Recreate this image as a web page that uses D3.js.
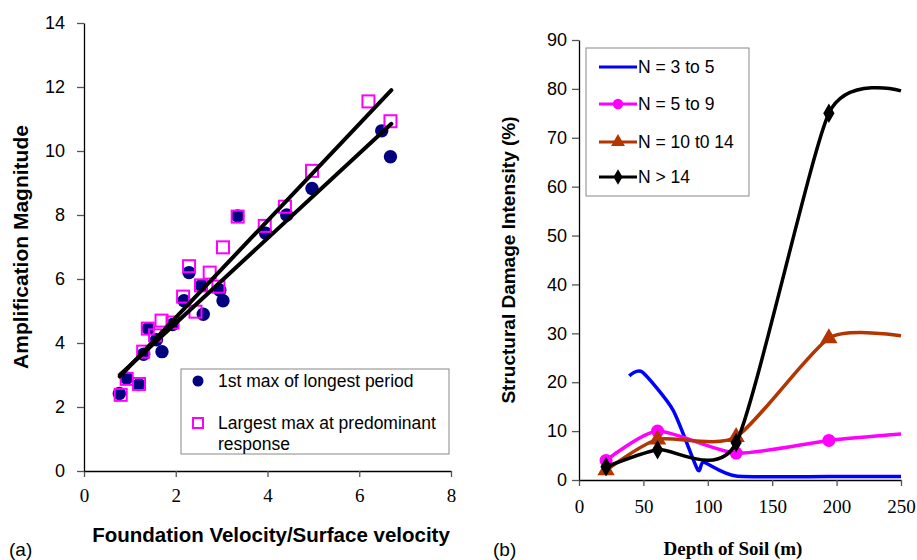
<!DOCTYPE html>
<html>
<head>
<meta charset="utf-8">
<script src="https://cdn.jsdelivr.net/npm/d3@7"></script>
<style>
  body { margin: 0; background: #fff; }
  #container { width: 917px; height: 560px; }
  .sans { font-family: "Liberation Sans", Arial, sans-serif; }
  .serif { font-family: "Liberation Serif", "Times New Roman", serif; }
</style>
</head>
<body>
<div id="container"></div>
<script>
// (a) scatter: 1st max of longest period
const firstMaxX = [0.77, 0.93, 1.2, 1.3, 1.7, 1.4, 1.58, 1.93, 2.18, 2.29, 2.6, 2.56, 2.96, 3.03, 3.35, 3.96, 4.42, 4.97, 6.49, 6.68];
const firstMaxY = [2.42, 2.9, 2.7, 3.65, 3.73, 4.45, 4.1, 4.58, 5.32, 6.2, 4.9, 5.8, 5.65, 5.32, 7.97, 7.43, 8.0, 8.83, 10.63, 9.82];
// (a) scatter: largest max at predominant response
const largestMaxX = [0.8, 0.93, 1.2, 1.29, 1.39, 1.55, 1.69, 1.93, 2.16, 2.29, 2.43, 2.55, 2.74, 2.93, 3.03, 3.35, 3.94, 4.38, 4.97, 6.2, 6.68];
const largestMaxY = [2.38, 2.88, 2.72, 3.73, 4.45, 4.24, 4.7, 4.64, 5.45, 6.4, 4.98, 5.8, 6.2, 5.76, 6.99, 7.95, 7.66, 8.26, 9.38, 11.55, 10.93];
// (a) fitted lines (end points)
const trendX = [0.78, 6.7];
const trendUpper = [2.95, 11.9];
const trendLower = [3.0, 10.85];
const ticksA_X = [0, 2, 4, 6, 8];
const ticksA_Y = [0, 2, 4, 6, 8, 10, 12, 14];

// (b) structural damage vs depth of soil
const depth = [21, 61, 122, 194, 250];
const n5to9 = [4.0, 10.0, 5.5, 8.1, 9.4];
const n10to14 = [2.0, 8.3, 8.8, 29.0, 29.5];
const nOver14 = [2.7, 6.2, 7.6, 75.0, 79.6];
const blueDepth = [39, 49, 73, 92, 97, 122, 194, 250];
const n3to5 = [21.3, 22.1, 14.3, 2.2, 3.6, 0.8, 0.7, 0.7];
const ticksB_X = [0, 50, 100, 150, 200, 250];
const ticksB_Y = [0, 10, 20, 30, 40, 50, 60, 70, 80, 90];

const svg = d3.select("#container").append("svg")
    .attr("width", 917).attr("height", 560);

// ---------- panel (a) ----------
const xA = d3.scaleLinear().domain([0, 8]).range([84, 451]);
const yA = d3.scaleLinear().domain([0, 14]).range([471, 23]);

const axA_x = svg.append("g").attr("transform", `translate(0,${yA(0)})`)
    .call(d3.axisBottom(xA).tickValues(ticksA_X).tickSize(6).tickPadding(12).tickSizeOuter(0));
axA_x.selectAll("text").attr("class", "serif").style("font-size", "19px").attr("fill", "#000");
const axA_y = svg.append("g").attr("transform", `translate(${xA(0)},0)`)
    .call(d3.axisLeft(yA).tickValues(ticksA_Y).tickSize(7).tickPadding(12).tickSizeOuter(0));
axA_y.selectAll("text").attr("class", "sans").style("font-size", "18px").attr("fill", "#000");
svg.selectAll(".domain").attr("stroke", "#000").attr("stroke-width", 1.3);
svg.selectAll(".tick line").attr("stroke", "#555").attr("stroke-width", 1.3);

svg.selectAll("circle.fm").data(firstMaxX).enter().append("circle").attr("class", "fm")
    .attr("cx", d => xA(d)).attr("cy", (d, i) => yA(firstMaxY[i]))
    .attr("r", 6.7).attr("fill", "#000080");

svg.selectAll("rect.lm").data(largestMaxX).enter().append("rect").attr("class", "lm")
    .attr("x", d => xA(d) - 6).attr("y", (d, i) => yA(largestMaxY[i]) - 6)
    .attr("width", 12).attr("height", 12)
    .attr("fill", "none").attr("stroke", "#ff00ff").attr("stroke-width", 2);

[trendUpper, trendLower].forEach(t => {
    svg.append("line")
        .attr("x1", xA(trendX[0])).attr("y1", yA(t[0]))
        .attr("x2", xA(trendX[1])).attr("y2", yA(t[1]))
        .attr("stroke", "#000").attr("stroke-width", 4).attr("stroke-linecap", "round");
});

// legend (a)
svg.append("rect").attr("x", 181).attr("y", 369).attr("width", 268).attr("height", 85)
    .attr("fill", "#fff").attr("stroke", "#888").attr("stroke-width", 1);
svg.append("circle").attr("cx", 198).attr("cy", 381).attr("r", 5.5).attr("fill", "#000080");
svg.append("rect").attr("x", 193).attr("y", 418).attr("width", 10).attr("height", 10)
    .attr("fill", "none").attr("stroke", "#ff00ff").attr("stroke-width", 2);
const legA = svg.append("g").attr("class", "sans").style("font-size", "17.5px");
legA.append("text").attr("x", 218).attr("y", 387).text("1st max of longest period");
legA.append("text").attr("x", 218).attr("y", 429).text("Largest max at predominant");
legA.append("text").attr("x", 218).attr("y", 450).text("response");

svg.append("text").attr("class", "sans")
    .attr("transform", "translate(28,247) rotate(-90)")
    .attr("text-anchor", "middle").style("font-size", "21px").style("font-weight", "bold")
    .text("Amplification Magnitude");
svg.append("text").attr("class", "sans")
    .attr("x", 271).attr("y", 542).attr("text-anchor", "middle")
    .style("font-size", "20.5px").style("font-weight", "bold")
    .text("Foundation Velocity/Surface velocity");
svg.append("text").attr("class", "sans").attr("x", 9).attr("y", 556)
    .style("font-size", "19px").text("(a)");

// ---------- panel (b) ----------
const xB = d3.scaleLinear().domain([0, 250]).range([579, 901]);
const yB = d3.scaleLinear().domain([0, 90]).range([480, 40]);

const axB_x = svg.append("g").attr("transform", `translate(0,${yB(0)})`)
    .call(d3.axisBottom(xB).tickValues(ticksB_X).tickSize(6).tickPadding(14).tickSizeOuter(0));
axB_x.selectAll("text").attr("class", "serif").style("font-size", "19px").attr("fill", "#000");
const axB_y = svg.append("g").attr("transform", `translate(${xB(0)},0)`)
    .call(d3.axisLeft(yB).tickValues(ticksB_Y).tickSize(7).tickPadding(5).tickSizeOuter(0));
axB_y.selectAll("text").attr("class", "sans").style("font-size", "18px").attr("fill", "#000");
svg.selectAll(".domain").attr("stroke", "#000").attr("stroke-width", 1.3);
svg.selectAll(".tick line").attr("stroke", "#555").attr("stroke-width", 1.3);

const smooth = d3.line().curve(d3.curveCardinal.tension(0.35));

const series = [
    { xs: blueDepth, ys: n3to5, color: "#0000ff", marker: null, label: "N = 3 to 5" },
    { xs: depth, ys: n5to9, color: "#ff00ff", marker: "circle", label: "N = 5 to 9" },
    { xs: depth, ys: n10to14, color: "#b33500", marker: "triangle", label: "N = 10 t0 14" },
    { xs: depth, ys: nOver14, color: "#000000", marker: "diamond", label: "N > 14" }
];

function drawMarker(g, kind, x, y, color, scale) {
    if (kind === "circle") {
        g.append("circle").attr("cx", x).attr("cy", y).attr("r", 6.5 * scale).attr("fill", color);
    } else if (kind === "triangle") {
        g.append("path").attr("transform", `translate(${x},${y})`)
            .attr("d", d3.symbol(d3.symbolTriangle, 130 * scale * scale)()).attr("fill", color);
    } else if (kind === "diamond") {
        g.append("path").attr("transform", `translate(${x},${y})`)
            .attr("d", d3.symbol(d3.symbolDiamond, 110 * scale * scale)()).attr("fill", color);
    }
}

series.forEach(s => {
    const pts = s.xs.map((x, i) => [xB(x), yB(s.ys[i])]);
    svg.append("path").attr("d", smooth(pts))
        .attr("fill", "none").attr("stroke", s.color).attr("stroke-width", 3.5);
    if (s.marker) {
        const g = svg.append("g");
        // the last depth (250 m) carries no marker
        pts.slice(0, pts.length - 1).forEach(p => drawMarker(g, s.marker, p[0], p[1], s.color, 1));
    }
});

// legend (b)
svg.append("rect").attr("x", 586).attr("y", 48).attr("width", 163).attr("height", 148)
    .attr("fill", "#fff").attr("stroke", "#888").attr("stroke-width", 1);
const legRows = [67, 104, 142, 177];
series.forEach((s, i) => {
    const g = svg.append("g");
    g.append("line").attr("x1", 599).attr("x2", 637).attr("y1", legRows[i]).attr("y2", legRows[i])
        .attr("stroke", s.color).attr("stroke-width", 3);
    if (s.marker) drawMarker(g, s.marker, 618, legRows[i], s.color, 0.8);
    g.append("text").attr("class", "sans").attr("x", 638).attr("y", legRows[i] + 6)
        .style("font-size", "17.5px").text(s.label);
});

svg.append("text").attr("class", "sans")
    .attr("transform", "translate(515,260) rotate(-90)")
    .attr("text-anchor", "middle").style("font-size", "19px").style("font-weight", "bold")
    .text("Structural Damage Intensity (%)");
svg.append("text").attr("class", "serif")
    .attr("x", 733).attr("y", 555).attr("text-anchor", "middle")
    .style("font-size", "19px").style("font-weight", "bold")
    .text("Depth of Soil (m)");
svg.append("text").attr("class", "sans").attr("x", 493).attr("y", 556)
    .style("font-size", "19px").text("(b)");
</script>
</body>
</html>
